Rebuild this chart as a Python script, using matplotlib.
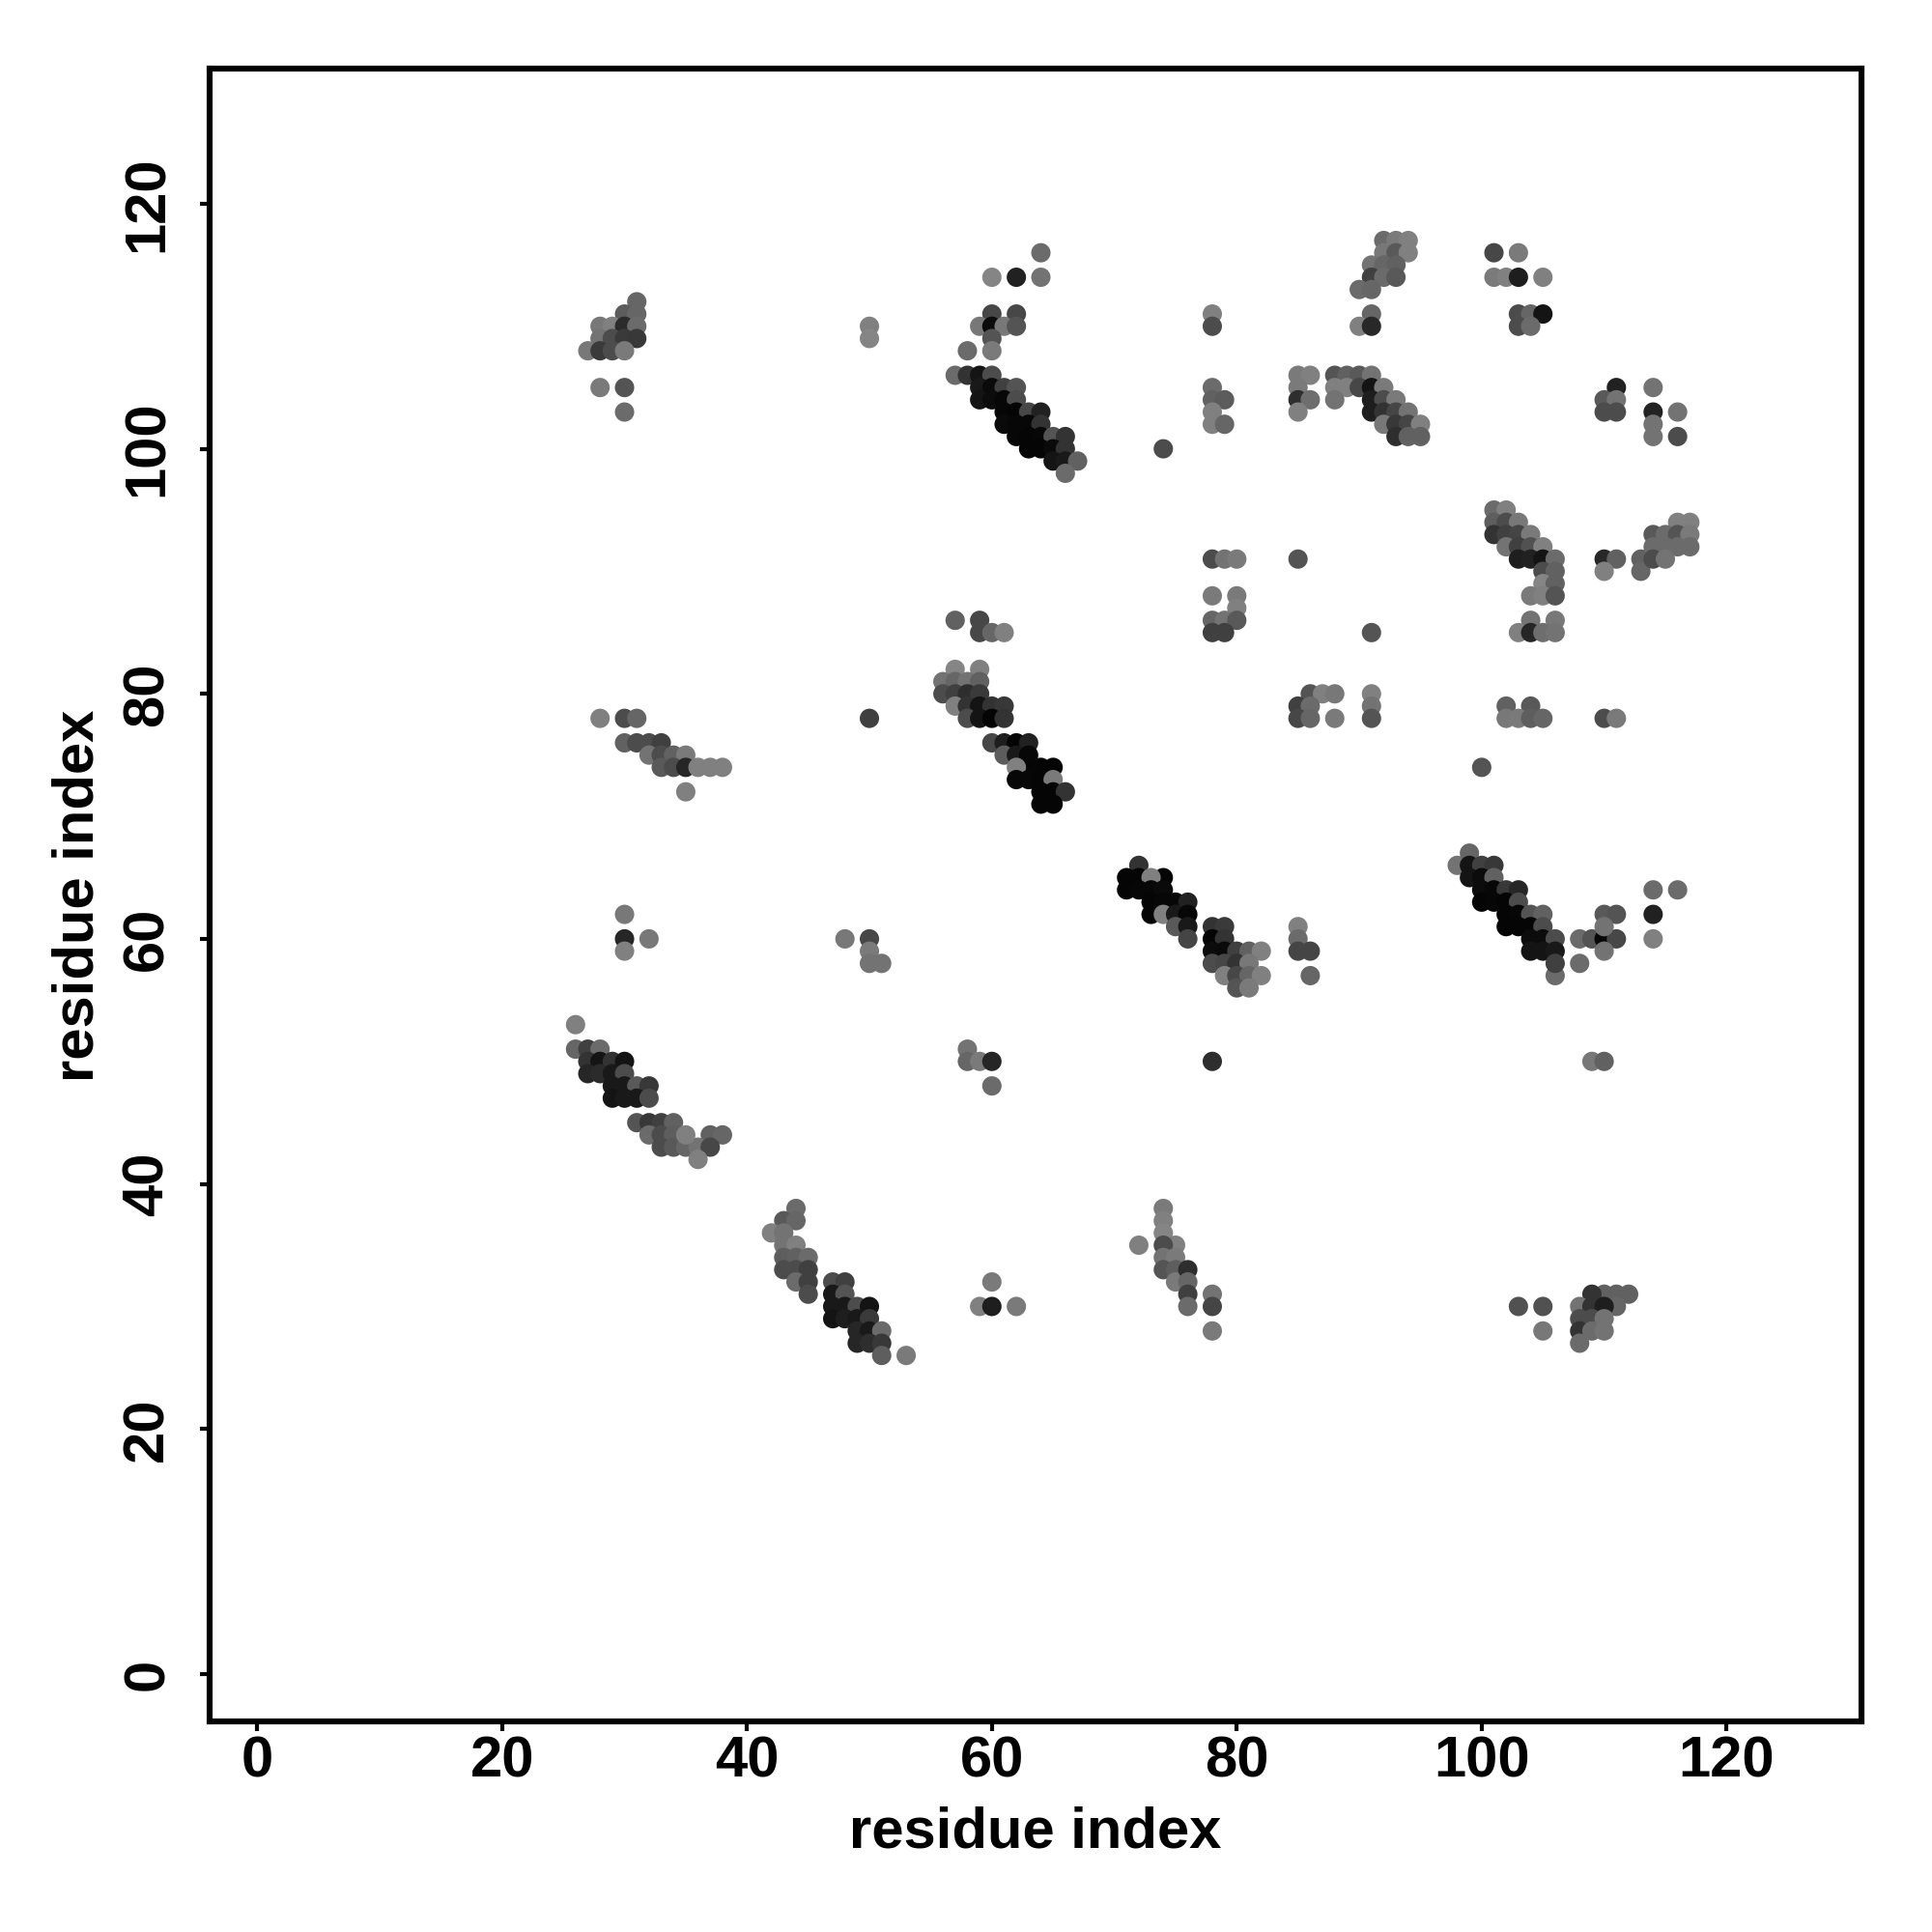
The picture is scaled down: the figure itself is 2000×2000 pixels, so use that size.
import matplotlib
matplotlib.use("Agg")
import matplotlib.pyplot as plt
import numpy as np

plt.rcParams['font.family'] = ['Liberation Sans', 'DejaVu Sans']

# (residue x, residue y, grey level)
top_left = [(31,112,.40),(30,111,.36),(31,111,.40),(28,110,.47),(29,110,.50),(30,110,.17),(31,110,.42),
            (28,109,.45),(29,109,.30),(30,109,.23),(31,109,.22),(27,108,.47),(28,108,.23),(29,108,.30),(30,108,.48),
            (28,105,.48),(30,105,.33),(30,103,.42),(50,110,.50),(50,109,.52)]
helix_60_100 = [(60,114,.52),(62,114,.13),(64,116,.42),(64,114,.45),(60,111,.28),(62,111,.28),(59,110,.47),(60,110,.05),
                (61,110,.47),(62,110,.33),(60,109,.33),(58,108,.42),(60,108,.48),(57,106,.42),(58,106,.20),(59,106,.08),(60,106,.30),
                (59,105,.10),(60,105,.04),(61,105,.25),(62,105,.33),(59,104,.08),(60,104,.05),(61,104,.03),(62,104,.30),
                (61,103,.03),(62,103,.02),(63,103,.28),(64,103,.13),(61,102,.04),(62,102,.03),(63,102,.03),(64,102,.20),
                (62,101,.03),(63,101,.02),(64,101,.03),(65,101,.33),(66,101,.20),(63,100,.02),(64,100,.02),(65,100,.04),(66,100,.20),
                (65,99,.08),(66,99,.10),(67,99,.38),(66,98,.42),(74,100,.30)]
top_middle = [(78,111,.50),(78,110,.30),(78,105,.42),(78,104,.38),(79,104,.36),(78,103,.50),(78,102,.50),(79,102,.40),
              (85,106,.48),(86,106,.50),(85,105,.48),(85,104,.18),(86,104,.43),(85,103,.50),
              (88,106,.33),(89,106,.38),(90,106,.35),(91,106,.45),(88,105,.50),(89,105,.50),(90,105,.28),(91,105,.08),(92,105,.48),
              (88,104,.45),(91,104,.12),(92,104,.30),(93,104,.48),(91,103,.12),(92,103,.20),(93,103,.27),(94,103,.45),
              (92,102,.47),(93,102,.22),(94,102,.27),(95,102,.50),(93,101,.18),(94,101,.38),(95,101,.38)]
top_cap = [(92,117,.42),(93,117,.48),(94,117,.50),(92,116,.47),(93,116,.35),(94,116,.50),(91,115,.45),(92,115,.40),(93,115,.38),
           (91,114,.25),(92,114,.42),(93,114,.35),(90,113,.42),(91,113,.40),(91,111,.40),(90,110,.50),(91,110,.16)]
top_right = [(101,116,.28),(103,116,.48),(101,114,.48),(102,114,.50),(103,114,.12),(105,114,.50),(103,111,.30),(104,111,.40),(105,111,.08),
             (103,110,.30),(104,110,.42),(111,105,.13),(110,104,.35),(111,104,.45),(110,103,.30),(111,103,.30),(114,105,.45),(114,103,.14),
             (114,102,.45),(114,101,.45),(116,103,.45),(116,101,.30)]
row_85_91 = [(78,91,.30),(79,91,.45),(80,91,.48),(85,91,.33),(78,88,.48),(80,88,.48),(80,87,.50),(78,86,.40),(79,86,.45),(80,86,.35),
             (78,85,.25),(79,85,.25),(91,85,.33),(86,80,.33),(87,80,.50),(88,80,.47),(91,80,.50),(85,79,.25),(86,79,.42),(91,79,.45),
             (85,78,.28),(86,78,.40),(88,78,.48),(91,78,.33)]
right_90 = [(101,95,.42),(102,95,.50),(101,94,.37),(102,94,.30),(103,94,.47),(101,93,.20),(102,93,.25),(103,93,.27),(104,93,.48),
            (102,92,.45),(103,92,.25),(104,92,.32),(105,92,.50),(103,91,.12),(104,91,.13),(105,91,.08),(106,91,.42),(105,90,.30),(106,90,.38),
            (105,89,.52),(106,89,.38),(104,88,.48),(105,88,.50),(106,88,.33),(104,86,.45),(106,86,.47),(103,85,.50),(104,85,.15),(105,85,.43),(106,85,.45),
            (102,79,.38),(104,79,.35),(102,78,.47),(103,78,.48),(104,78,.37),(105,78,.40),(110,78,.30),(111,78,.48),(100,74,.33)]
far_right = [(110,91,.16),(111,91,.38),(110,90,.50),(113,91,.38),(113,90,.40),(116,94,.50),(117,94,.50),(114,93,.35),(115,93,.42),(116,93,.33),(117,93,.48),
             (114,92,.42),(115,92,.42),(116,92,.42),(117,92,.42),(114,91,.30),(115,91,.45)]
helix_60_75 = [(57,86,.38),(59,86,.28),(59,85,.28),(60,85,.40),(61,85,.50),(57,82,.52),(59,82,.50),(56,81,.45),(57,81,.40),(58,81,.45),(59,81,.38),
               (56,80,.30),(57,80,.25),(58,80,.18),(59,80,.23),(57,79,.50),(58,79,.20),(59,79,.08),(60,79,.20),(61,79,.22),
               (58,78,.30),(59,78,.08),(60,78,.02),(61,78,.20),(60,76,.28),(61,76,.12),(62,76,.02),(63,76,.13),(61,75,.36),(62,75,.10),(63,75,.03),
               (63,74,.02),(64,74,.02),(65,74,.02),(62,74,.50),(62,73,.03),(63,73,.03),(64,73,.02),(65,73,.48),(64,72,.02),(65,72,.02),(66,72,.20),(64,71,.02),(65,71,.02)]
helix_75_60 = [(72,66,.20),(71,65,.02),(72,65,.02),(74,65,.02),(73,65,.50),(71,64,.02),(72,64,.03),(73,64,.03),(74,64,.04),(73,63,.02),(74,63,.03),(75,63,.03),(76,63,.13),
               (73,62,.02),(74,62,.50),(75,62,.10),(76,62,.03),(75,61,.35),(76,61,.10),(76,60,.27),
               (78,61,.20),(79,61,.23),(78,60,.02),(79,60,.20),(78,59,.05),(79,59,.04),(80,59,.25),(81,59,.38),(82,59,.50),
               (78,58,.30),(79,58,.28),(80,58,.20),(81,58,.47),(79,57,.50),(80,57,.28),(81,57,.40),(82,57,.50),(80,56,.33),(81,56,.48),
               (85,61,.50),(85,60,.42),(85,59,.27),(86,59,.27),(86,57,.40)]
helix_100_60 = [(98,66,.45),(99,67,.40),(99,66,.08),(100,66,.25),(101,66,.22),(99,65,.08),(100,65,.05),(101,65,.38),(100,64,.05),(101,64,.03),(102,64,.22),(103,64,.15),
                (100,63,.02),(101,63,.03),(102,63,.02),(103,63,.30),(102,62,.02),(103,62,.03),(104,62,.33),(105,62,.38),(102,61,.02),(103,61,.02),(104,61,.02),(105,61,.30),
                (104,60,.05),(105,60,.05),(106,60,.30),(104,59,.08),(105,59,.08),(106,59,.10),(106,57,.42),(106,58,.25),
                (108,60,.42),(109,60,.33),(110,60,.03),(111,60,.28),(110,62,.35),(111,62,.33),(110,61,.45),(110,59,.45),(108,58,.42),
                (114,64,.42),(116,64,.42),(114,62,.13),(114,60,.50)]
left_78 = [(28,78,.50),(30,78,.30),(31,78,.40),(30,76,.38),(31,76,.30),(32,76,.30),(33,76,.25),(32,75,.45),(33,75,.30),(34,75,.38),(35,75,.48),
           (33,74,.35),(34,74,.30),(35,74,.15),(36,74,.50),(37,74,.50),(38,74,.50),(35,72,.50),(50,78,.25)]
scattered_60 = [(30,62,.47),(30,60,.15),(32,60,.47),(30,59,.50),(48,60,.47),(50,60,.28),(50,59,.48),(50,58,.45),(51,58,.45),
                (58,51,.45),(58,50,.40),(59,50,.48),(60,50,.15),(60,48,.42),(78,50,.18),(109,50,.47),(110,50,.38)]
helix_30_50 = [(26,53,.50),(26,51,.40),(27,51,.25),(28,51,.42),(27,50,.20),(28,50,.08),(29,50,.20),(30,50,.08),(27,49,.15),(28,49,.17),(29,49,.10),(30,49,.30),
               (29,48,.10),(30,48,.10),(31,48,.35),(32,48,.22),(29,47,.08),(30,47,.10),(31,47,.10),(32,47,.30),
               (31,45,.33),(32,45,.22),(33,45,.25),(34,45,.38),(32,44,.42),(33,44,.30),(34,44,.37),(37,44,.38),(38,44,.40),
               (33,43,.30),(34,43,.35),(35,43,.40),(36,43,.45),(37,43,.28),(35,44,.50),(36,42,.50)]
helix_45_30 = [(44,38,.42),(43,37,.35),(44,37,.40),(42,36,.50),(43,36,.45),(43,35,.45),(44,35,.50),(43,34,.37),(44,34,.38),(45,34,.42),
               (43,33,.30),(44,33,.30),(45,33,.25),(44,32,.42),(45,32,.25),(45,31,.30),(47,32,.30),(48,32,.25),(47,31,.10),(48,31,.33),
               (47,30,.10),(48,30,.10),(49,30,.30),(50,30,.08),(47,29,.08),(48,29,.12),(49,29,.10),(50,29,.23),(49,28,.15),(50,28,.10),(51,28,.42),
               (49,27,.15),(50,27,.18),(51,27,.22),(51,26,.37),(53,26,.48)]
bottom_75 = [(72,35,.50),(74,38,.48),(74,37,.50),(74,36,.52),(75,35,.50),(74,35,.30),(74,34,.45),(75,34,.48),(74,33,.33),(75,33,.37),(75,32,.48),
             (76,33,.18),(76,32,.40),(76,31,.25),(76,30,.42),(78,31,.45),(78,30,.27),(78,28,.48),(60,32,.48),(59,30,.50),(60,30,.12),(62,30,.48)]
bottom_right = [(103,30,.32),(105,30,.32),(105,28,.47),(112,31,.38),(111,31,.38),(110,31,.38),(109,31,.20),(111,30,.40),(108,30,.45),(109,30,.20),(110,30,.12),
                (108,29,.30),(109,29,.30),(110,29,.45),(108,28,.20),(109,28,.42),(110,28,.45),(108,27,.42)]

tick_values = [0, 20, 40, 60, 80, 100, 120]
axis_label = "residue index"

groups = [top_left, helix_60_100, top_middle, top_cap, top_right, row_85_91, right_90, far_right, helix_60_75,
          helix_75_60, helix_100_60, left_78, scattered_60, helix_30_50, helix_45_30, bottom_75, bottom_right]
points = np.array([p for g in groups for p in g])

fig = plt.figure(figsize=(10, 10), dpi=200)
ax = fig.add_axes([0.1084, 0.1088, 0.8550, 0.8555])
ax.scatter(points[:, 0], points[:, 1], c=points[:, 2], cmap='gray', vmin=0, vmax=1, s=52, linewidths=0)

ax.set_xlim(-3.9, 131)
ax.set_ylim(-3.9, 131)
ax.set_xticks(tick_values)
ax.set_yticks(tick_values)
for spine in ax.spines.values():
    spine.set_linewidth(2.2)
ax.tick_params(length=3.5, width=1.5, labelsize=21.5)
ax.tick_params(axis='x', pad=1.5)
ax.tick_params(axis='y', pad=9.5)
for label in ax.get_xticklabels() + ax.get_yticklabels():
    label.set_fontweight('bold')
for label in ax.get_yticklabels():
    label.set_rotation(90)
    label.set_va('center')

ax.set_xlabel(axis_label, fontsize=21.5, fontweight='bold', labelpad=6.7)
ax.set_ylabel(axis_label, fontsize=21.5, fontweight='bold', labelpad=6.2)

fig.savefig("out.png", dpi=200)
